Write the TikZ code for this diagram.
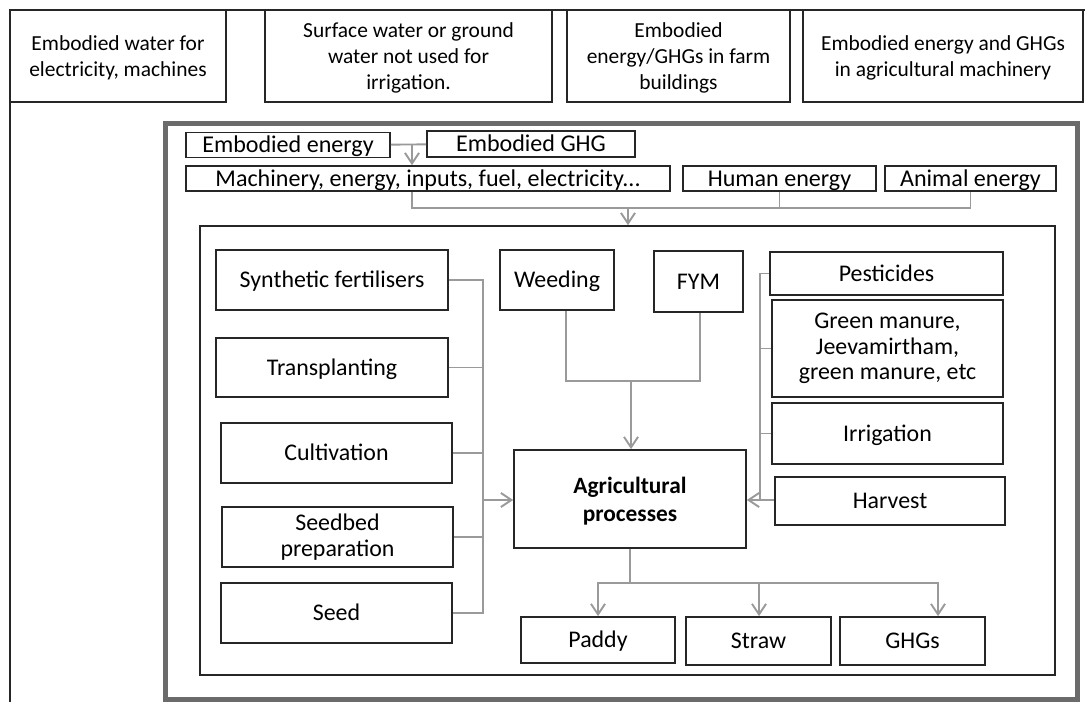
\documentclass[tikz,border=0pt]{standalone}
\usepackage{fontspec}
\setmainfont{Carlito}
\usetikzlibrary{arrows.meta}

\definecolor{linkgrey}{HTML}{9A9A9A}
\definecolor{framegrey}{HTML}{6B6B6B}
\tikzset{
  box/.style={rectangle, draw=black!85, line width=1pt, inner sep=1pt, font=\fontsize{13.6}{14.6}\selectfont, text height=11.5pt, text depth=2.7pt},
  multibox/.style={box, align=center, text height={}, text depth={}},
  topbox/.style={multibox, font=\fontsize{12.2}{14.6}\selectfont, text depth=-4pt},
  inbox/.style={box, inner ysep=0pt, font=\fontsize{13.7}{13}\selectfont},
  mainbox/.style={multibox, font=\bfseries\fontsize{13.3}{16}\selectfont, text depth=-0.5pt},
  link/.style={draw=linkgrey, line width=1.1pt},
  flow/.style={link, -{Straight Barb[length=6pt,width=8pt]}},
}

\begin{document}
\begin{tikzpicture}[x=0.02cm, y=-0.02cm]
        \useasboundingbox (0,0) rectangle (1085,702);
        % outer frame and top row
        \draw[line width=1pt, black!85] (10,702) -- (10,10) -- (1085,10);
        \node (water) at (118,56)[topbox, minimum width=4.32cm, minimum height=1.84cm] {Embodied water for\\electricity, machines};
        \node (surface) at (408.5,56)[topbox, minimum width=5.74cm, minimum height=1.84cm] {Surface water or ground\\water not used for\\irrigation.};
        \node (farm) at (678.5,56)[topbox, minimum width=4.46cm, minimum height=1.84cm] {Embodied\\energy/GHGs in farm\\buildings};
        \node (machines) at (943,56)[topbox, minimum width=5.6cm, minimum height=1.84cm] {Embodied energy and GHGs\\in agricultural machinery};

        % system boundary
        \node (system) at (621.5,411.5)[rectangle, draw=framegrey, line width=2.8pt, minimum width=18.26cm, minimum height=11.54cm] {};
        \node (emb-energy) at (288,145)[inbox, minimum width=4.08cm, minimum height=0.48cm] {Embodied energy};
        \node (emb-ghg) at (531,144)[inbox, minimum width=4.16cm, minimum height=0.52cm] {Embodied GHG};
        \node (inputs) at (428,178.5)[inbox, minimum width=9.68cm, minimum height=0.46cm] {Machinery, energy, inputs, fuel, electricity...};
        \node (human) at (779.5,178.5)[inbox, minimum width=3.86cm, minimum height=0.46cm] {Human energy};
        \node (animal) at (970.5,178.5)[inbox, minimum width=3.42cm, minimum height=0.46cm] {Animal energy};

        % farm
        \node (farm-box) at (627.5,450.5)[rectangle, draw=black!85, line width=1pt, minimum width=17.1cm, minimum height=8.98cm] {};
        \node (synth) at (332,280)[box, minimum width=4.64cm, minimum height=1.2cm] {Synthetic fertilisers};
        \node (transp) at (332,367.5)[box, minimum width=4.64cm, minimum height=1.18cm] {Transplanting};
        \node (cultiv) at (336.5,453)[box, minimum width=4.62cm, minimum height=1.2cm] {Cultivation};
        \node (seedbed) at (337.5,537)[multibox, minimum width=4.62cm, minimum height=1.2cm] {Seedbed\\preparation};
        \node (seed) at (336.5,613)[box, minimum width=4.62cm, minimum height=1.2cm] {Seed};
        \node (weeding) at (557,280)[box, minimum width=2.28cm, minimum height=1.2cm] {Weeding};
        \node (fym) at (698.5,281.5)[box, minimum width=1.78cm, minimum height=1.22cm] {FYM};
        \node (agri) at (630,499)[mainbox, minimum width=4.64cm, minimum height=1.96cm] {Agricultural\\processes};
        \node (pest) at (886.5,273.5)[box, minimum width=4.66cm, minimum height=0.86cm] {Pesticides};
        \node (green) at (887.5,348.5)[multibox, minimum width=4.62cm, minimum height=1.94cm] {Green manure,\\Jeevamirtham,\\green manure, etc};
        \node (irrig) at (887.5,433.5)[box, minimum width=4.62cm, minimum height=1.22cm] {Irrigation};
        \node (harvest) at (890,501)[box, minimum width=4.6cm, minimum height=0.96cm] {Harvest};
        \node (paddy) at (598,640)[box, minimum width=3.08cm, minimum height=0.92cm] {Paddy};
        \node (straw) at (758.5,641)[box, minimum width=2.9cm, minimum height=0.96cm] {Straw};
        \node (ghgs) at (912.5,641)[box, minimum width=2.9cm, minimum height=0.96cm] {GHGs};

        \coordinate (emb-join) at (412,145);
        \coordinate (input-bus) at (628,208);
        \coordinate (left-bus) at (483,500);
        \coordinate (right-bus) at (760,500);
        \coordinate (mid-join) at (631,381);
        \coordinate (out-bus) at (630,583);

        % inputs to the farm
        \draw[link] (emb-energy) -- (emb-ghg);
        \draw[flow] (emb-join) -- (emb-join |- inputs.north);
        \draw[link] (inputs.south -| emb-join) |- (animal.south |- input-bus) -- (animal.south);
        \draw[link] (human.south) -- (human.south |- input-bus);
        \draw[flow] (input-bus) -- (input-bus |- farm-box.north);

        % processes
        \draw[link] (synth.east) -| (left-bus |- seed.east) -- (seed.east);
        \draw[link] (transp.east) -- (transp.east -| left-bus);
        \draw[link] (cultiv.east) -- (cultiv.east -| left-bus);
        \draw[link] (seedbed.east) -- (seedbed.east -| left-bus);
        \draw[flow] (left-bus) -- (left-bus -| agri.west);
        \draw[link] (weeding.south -| 566,0) |- (mid-join) -| (fym.south -| 700,0);
        \draw[flow] (mid-join) -- (mid-join |- agri.north);
        \draw[link] (pest.west) -| (right-bus);
        \draw[link] (green.west) -- (green.west -| right-bus);
        \draw[link] (irrig.west) -- (irrig.west -| right-bus);
        \draw[flow] (harvest.west |- right-bus) -- (agri.east |- right-bus);

        % outputs
        \draw[link] (agri.south -| out-bus) -- (out-bus);
        \draw[flow] (out-bus) -| (paddy.north);
        \draw[flow] (out-bus) -| (straw.north -| 759,0);
        \draw[flow] (out-bus) -| (ghgs.north -| 938,0);
    \end{tikzpicture}
\end{document}
